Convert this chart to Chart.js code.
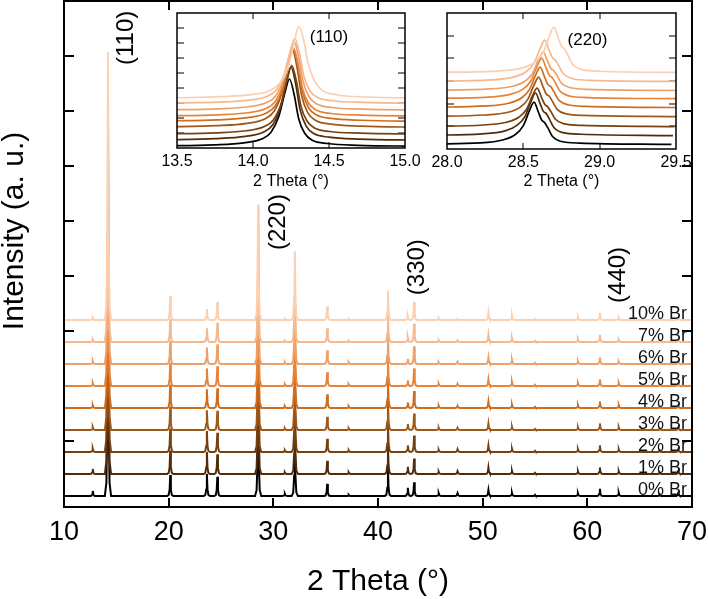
<!DOCTYPE html>
<html>
<head>
<meta charset="utf-8">
<script src="https://cdn.jsdelivr.net/npm/chart.js@4.4.0/dist/chart.umd.min.js"></script>
<style>
body { margin: 0; background: #fff; }
#wrap { position: relative; width: 708px; height: 599px; }
canvas { position: absolute; }
</style>
</head>
<body>
<div id="wrap">
	<canvas id="main" width="708" height="599" style="left:0;top:0"></canvas>
	<canvas id="ins110" width="290" height="200" style="left:140px;top:0"></canvas>
	<canvas id="ins220" width="298" height="200" style="left:410px;top:0"></canvas>
</div>
<script>
// samples, dark to light
var seriesNames = ['0% Br', '1% Br', '2% Br', '3% Br', '4% Br', '5% Br', '6% Br', '7% Br', '10% Br'];
var seriesColors = ['#000000', '#512c0b', '#76410f', '#a05818', '#cf6d1f', '#e8843a', '#eda067', '#f4b98f', '#fbcfb0'];
var mainOffsets = [0, 0.4, 0.8, 1.2, 1.6, 2.0, 2.4, 2.8, 3.2];

// main pattern: peak positions (2 theta) and heights above each baseline
var peakPos = [12.75, 14.2, 20.15, 23.65, 24.65, 28.55, 31.1, 32.05, 35.15, 37.2, 40.95, 42.85, 43.45, 45.8, 47.6, 50.55, 52.8, 55.0, 59.1, 61.2, 63.0, 66.9, 68.7];
var peakHeights = [
	[0.09, 4.8, 0.38, 0.40, 0.35, 2.05, 0.04, 1.25, 0.22, 0.02, 0.50, 0.15, 0.25, 0.05, 0.05, 0.11, 0.06, 0.02, 0.05, 0.13, 0.06, 0.03, 0.06],
	[0.09, 4.8, 0.42, 0.40, 0.36, 2.05, 0.03, 1.25, 0.24, 0.03, 0.52, 0.13, 0.28, 0.04, 0.05, 0.12, 0.06, 0.02, 0.05, 0.12, 0.05, 0.03, 0.06],
	[0.06, 4.8, 0.42, 0.38, 0.35, 2.05, 0.03, 1.25, 0.24, 0.03, 0.52, 0.12, 0.30, 0.04, 0.05, 0.12, 0.06, 0.02, 0.05, 0.12, 0.05, 0.03, 0.05],
	[0.05, 4.8, 0.42, 0.36, 0.35, 2.05, 0.03, 1.25, 0.24, 0.03, 0.52, 0.11, 0.30, 0.04, 0.04, 0.12, 0.06, 0.02, 0.05, 0.12, 0.05, 0.03, 0.05],
	[0.05, 4.8, 0.42, 0.34, 0.36, 2.05, 0.03, 1.25, 0.25, 0.03, 0.52, 0.10, 0.31, 0.04, 0.04, 0.12, 0.06, 0.02, 0.05, 0.12, 0.05, 0.03, 0.05],
	[0.05, 4.8, 0.42, 0.32, 0.36, 2.05, 0.03, 1.25, 0.25, 0.03, 0.53, 0.10, 0.32, 0.04, 0.04, 0.12, 0.07, 0.02, 0.05, 0.12, 0.05, 0.03, 0.05],
	[0.05, 4.8, 0.42, 0.30, 0.36, 2.05, 0.03, 1.25, 0.25, 0.03, 0.53, 0.09, 0.32, 0.03, 0.04, 0.12, 0.07, 0.02, 0.05, 0.12, 0.04, 0.03, 0.05],
	[0.04, 4.8, 0.42, 0.25, 0.35, 2.05, 0.02, 1.25, 0.25, 0.02, 0.53, 0.08, 0.33, 0.03, 0.03, 0.13, 0.07, 0.02, 0.05, 0.13, 0.04, 0.03, 0.05],
	[0.04, 4.87, 0.44, 0.20, 0.33, 2.10, 0.02, 1.25, 0.25, 0.02, 0.53, 0.07, 0.33, 0.03, 0.02, 0.13, 0.08, 0.02, 0.05, 0.13, 0.04, 0.03, 0.05]
];
var mainTicksX = [10, 20, 30, 40, 50, 60, 70];

// (110) inset
var ins110Center = [14.24, 14.25, 14.255, 14.26, 14.265, 14.265, 14.27, 14.275, 14.30];
var ins110Base = [0.07, 0.47, 0.87, 1.33, 1.73, 2.07, 2.47, 2.93, 3.27];
var ins110Dx = [-0.85, -0.5, -0.3, -0.18, -0.12, -0.07, -0.03, 0, 0.03, 0.06, 0.1, 0.15, 0.25, 0.45, 0.85];
var ins110Rel = [
	[0.07, 0.14, 0.27, 0.54, 1.00, 2.04, 3.62, 4.53, 3.53, 1.90, 0.91, 0.45, 0.23, 0.11, 0.05],
	[0.07, 0.15, 0.30, 0.59, 1.08, 2.22, 3.94, 4.93, 3.85, 2.07, 0.99, 0.49, 0.25, 0.12, 0.05],
	[0.07, 0.14, 0.28, 0.56, 1.02, 2.08, 3.70, 4.63, 3.61, 1.94, 0.93, 0.46, 0.23, 0.12, 0.05],
	[0.08, 0.16, 0.31, 0.62, 1.14, 2.33, 4.14, 5.17, 4.03, 2.17, 1.03, 0.52, 0.26, 0.13, 0.05],
	[0.07, 0.15, 0.29, 0.58, 1.07, 2.19, 3.90, 4.87, 3.80, 2.05, 0.97, 0.49, 0.24, 0.12, 0.05],
	[0.07, 0.14, 0.28, 0.56, 1.02, 2.08, 3.70, 4.63, 3.61, 1.94, 0.93, 0.46, 0.23, 0.12, 0.05],
	[0.07, 0.14, 0.28, 0.56, 1.02, 2.08, 3.70, 4.63, 3.61, 1.94, 0.93, 0.46, 0.23, 0.12, 0.05],
	[0.07, 0.13, 0.26, 0.52, 0.96, 1.97, 3.50, 4.37, 3.41, 1.84, 0.87, 0.44, 0.22, 0.11, 0.04],
	[0.07, 0.15, 0.30, 0.60, 1.10, 2.10, 3.70, 4.83, 4.10, 2.50, 1.30, 0.60, 0.28, 0.13, 0.05]
];

// (220) inset
var ins220Center = [28.57, 28.58, 28.59, 28.60, 28.61, 28.62, 28.63, 28.64, 28.70];
var ins220Base = [0.03, 0.42, 0.82, 1.26, 1.66, 2.05, 2.41, 2.81, 3.20];
var ins220Dx = [-0.8, -0.35, -0.2, -0.12, -0.07, -0.03, 0, 0.03, 0.05, 0.07, 0.09, 0.12, 0.18, 0.3, 0.9];
var ins220Rel = [
	[0.03, 0.09, 0.23, 0.47, 0.85, 1.51, 1.89, 1.42, 1.10, 0.98, 0.76, 0.38, 0.15, 0.08, 0.02],
	[0.03, 0.10, 0.23, 0.48, 0.86, 1.52, 1.90, 1.43, 1.10, 0.99, 0.76, 0.38, 0.15, 0.08, 0.02],
	[0.02, 0.09, 0.21, 0.43, 0.77, 1.38, 1.72, 1.29, 1.00, 0.89, 0.69, 0.34, 0.14, 0.07, 0.02],
	[0.03, 0.09, 0.21, 0.44, 0.79, 1.41, 1.76, 1.32, 1.02, 0.92, 0.70, 0.35, 0.14, 0.07, 0.02],
	[0.03, 0.09, 0.22, 0.45, 0.81, 1.44, 1.80, 1.35, 1.04, 0.94, 0.72, 0.36, 0.14, 0.07, 0.02],
	[0.03, 0.09, 0.22, 0.45, 0.81, 1.45, 1.81, 1.36, 1.05, 0.94, 0.72, 0.36, 0.14, 0.07, 0.02],
	[0.02, 0.09, 0.21, 0.43, 0.77, 1.38, 1.72, 1.29, 1.00, 0.89, 0.69, 0.34, 0.14, 0.07, 0.02],
	[0.03, 0.09, 0.22, 0.46, 0.83, 1.47, 1.84, 1.38, 1.07, 0.96, 0.74, 0.37, 0.15, 0.07, 0.02],
	[0.03, 0.10, 0.24, 0.51, 0.91, 1.62, 2.03, 1.52, 1.18, 1.06, 0.81, 0.41, 0.16, 0.08, 0.02]
];

var FONT = "'Liberation Sans', Arial, sans-serif";
Chart.defaults.font.family = FONT;
Chart.defaults.color = '#000';

// peak outline: base, foot, shoulder, top, shoulder, foot, base
function peakPoints(pos, h, base) {
	return [
		{x: pos - 0.3, y: base},
		{x: pos - 0.15, y: base + 0.05 * h},
		{x: pos - 0.06, y: base + 0.3 * h},
		{x: pos, y: base + h},
		{x: pos + 0.06, y: base + 0.3 * h},
		{x: pos + 0.15, y: base + 0.05 * h},
		{x: pos + 0.3, y: base}
	];
}

function mainSeries(i) {
	var base = mainOffsets[i], pts = [{x: 10, y: base}];
	peakPos.forEach(function(p, k) {
		pts = pts.concat(peakPoints(p, peakHeights[i][k], base));
	});
	pts.push({x: 70, y: base});
	return pts;
}

function insetSeries(center, base, dx, rel) {
	return dx.map(function(d, k) {
		return {x: center + d, y: base + rel[k]};
	});
}

// frame plus inward ticks on all four sides
var frameTicks = {
	id: 'frameTicks',
	beforeDatasetsDraw: function(chart, args, opts) {
		var ctx = chart.ctx, a = chart.chartArea, x = chart.scales.x, y = chart.scales.y;
		ctx.save();
		ctx.strokeStyle = '#000';
		ctx.lineWidth = opts.width;
		ctx.beginPath();
		x.ticks.forEach(function(t) {
			if (t.value <= x.min + 1e-6 || t.value >= x.max - 1e-6) return;
			var px = Math.round(x.getPixelForValue(t.value));
			ctx.moveTo(px, a.bottom); ctx.lineTo(px, a.bottom - opts.lenX);
			ctx.moveTo(px, a.top); ctx.lineTo(px, a.top + opts.lenX);
		});
		y.ticks.forEach(function(t) {
			if (t.value <= y.min + 1e-6 || t.value >= y.max - 1e-6) return;
			var py = Math.round(y.getPixelForValue(t.value));
			ctx.moveTo(a.left, py); ctx.lineTo(a.left + opts.lenY, py);
			ctx.moveTo(a.right, py); ctx.lineTo(a.right - opts.lenY, py);
		});
		ctx.stroke();
		ctx.restore();
	},
	afterDatasetsDraw: function(chart, args, opts) {
		var ctx = chart.ctx, a = chart.chartArea;
		ctx.save();
		ctx.strokeStyle = '#000';
		ctx.lineWidth = opts.frame;
		ctx.strokeRect(a.left, a.top, a.right - a.left, a.bottom - a.top);
		ctx.restore();
	}
};

// hkl labels, sample labels and the rotated intensity title
var mainText = {
	id: 'mainText',
	afterDatasetsDraw: function(chart) {
		var ctx = chart.ctx, x = chart.scales.x, y = chart.scales.y;
		ctx.save();
		ctx.fillStyle = '#000';
		ctx.textAlign = 'center';
		ctx.textBaseline = 'middle';
		ctx.font = '24px ' + FONT;
		[['(110)', 15.92, 8.33], ['(220)', 30.45, 4.98], ['(330)', 43.73, 4.16], ['(440)', 62.93, 4.02]].forEach(function(l) {
			ctx.save();
			ctx.translate(x.getPixelForValue(l[1]), y.getPixelForValue(l[2]));
			ctx.rotate(-Math.PI / 2);
			ctx.fillText(l[0], 0, 0);
			ctx.restore();
		});
		ctx.font = '18px ' + FONT;
		ctx.textAlign = 'right';
		ctx.textBaseline = 'alphabetic';
		ctx.fillStyle = '#111';
		seriesNames.forEach(function(n, i) {
			ctx.fillText(n, chart.chartArea.right - 5, y.getPixelForValue(mainOffsets[i]) - 1);
		});
		ctx.fillStyle = '#000';
		ctx.font = '30px ' + FONT;
		ctx.textAlign = 'center';
		ctx.textBaseline = 'middle';
		ctx.translate(15, 231);
		ctx.rotate(-Math.PI / 2);
		ctx.fillText('Intensity (a. u.)', 0, 0);
		ctx.restore();
	}
};

function insetLabel(text, xv, yv) {
	return {
		id: 'insetLabel',
		afterDatasetsDraw: function(chart) {
			var ctx = chart.ctx;
			ctx.save();
			ctx.fillStyle = '#000';
			ctx.font = '17px ' + FONT;
			ctx.textAlign = 'center';
			ctx.textBaseline = 'middle';
			ctx.fillText(text, chart.scales.x.getPixelForValue(xv), chart.scales.y.getPixelForValue(yv));
			ctx.restore();
		}
	};
}

function buildDatasets(fn, width, smooth) {
	var sets = [];
	// lightest sample first so it is drawn on top
	for (var i = seriesNames.length - 1; i >= 0; i--) {
		sets.push({
			label: seriesNames[i],
			data: fn(i),
			borderColor: seriesColors[i],
			borderWidth: width,
			pointRadius: 0,
			tension: 0,
			cubicInterpolationMode: smooth ? 'monotone' : 'default',
			fill: false
		});
	}
	return sets;
}

function plainY(min, max, width) {
	return {
		type: 'linear', min: min, max: max,
		ticks: {stepSize: 1, display: false},
		grid: {display: false, drawTicks: false},
		border: {display: false},
		afterFit: function(s) { s.width = width; }
	};
}

// fixed axis height, and no extra side padding for the end labels
function fixX(h) {
	return function(s) {
		s.height = h;
		s.paddingLeft = 0;
		s.paddingRight = 0;
	};
}

new Chart(document.getElementById('main'), {
	type: 'line',
	data: {datasets: buildDatasets(mainSeries, 2, false)},
	options: {
		responsive: false,
		animation: false,
		layout: {padding: {left: 0, right: 16, top: 1, bottom: 0}},
		plugins: {
			legend: {display: false},
			tooltip: {enabled: false},
			frameTicks: {width: 2, frame: 2, lenX: 9, lenY: 10}
		},
		scales: {
			x: {
				type: 'linear', min: 10, max: 70,
				afterBuildTicks: function(s) { s.ticks = mainTicksX.map(function(v) { return {value: v}; }); },
				ticks: {font: {size: 27, lineHeight: 1}, color: '#000', padding: 12, maxRotation: 0},
				grid: {display: false, drawTicks: false},
				border: {display: false},
				title: {display: true, text: '2 Theta (°)', font: {size: 30, lineHeight: 1}, color: '#000', padding: {top: 0, bottom: 2}},
				afterFit: fixX(92)
			},
			y: plainY(-0.2, 9, 64)
		}
	},
	plugins: [frameTicks, mainText]
});

function insetChart(id, sets, xmin, xmax, ymin, ymax, padRight, xHeight, label) {
	return new Chart(document.getElementById(id), {
		type: 'line',
		data: {datasets: sets},
		options: {
			responsive: false,
			animation: false,
			layout: {padding: {left: 0, right: padRight, top: 13, bottom: 0}},
			plugins: {
				legend: {display: false},
				tooltip: {enabled: false},
				frameTicks: {width: 1, frame: 1.5, lenX: 6, lenY: 7}
			},
			scales: {
				x: {
					type: 'linear', min: xmin, max: xmax,
					ticks: {stepSize: 0.5, font: {size: 16, lineHeight: 1}, color: '#000', padding: 6, maxRotation: 0,
						callback: function(v) { return Number(v).toFixed(1); }},
					grid: {display: false, drawTicks: false},
					border: {display: false},
					title: {display: true, text: '2 Theta (°)', font: {size: 16, lineHeight: 1}, color: '#000', padding: {top: 0, bottom: 10}},
					afterFit: fixX(xHeight)
				},
				y: plainY(ymin, ymax, 37)
			}
		},
		plugins: [frameTicks, label]
	});
}

insetChart('ins110', buildDatasets(function(i) {
	return insetSeries(ins110Center[i], ins110Base[i], ins110Dx, ins110Rel[i]);
}, 1.7, true), 13.5, 15.0, 0, 9, 25, 52, insetLabel('(110)', 14.5, 7.4));

insetChart('ins220', buildDatasets(function(i) {
	return insetSeries(ins220Center[i], ins220Base[i], ins220Dx, ins220Rel[i]);
}, 1.7, true), 28.0, 29.5, -0.15, 5.85, 32, 51, insetLabel('(220)', 28.92, 4.65));
</script>
</body>
</html>
